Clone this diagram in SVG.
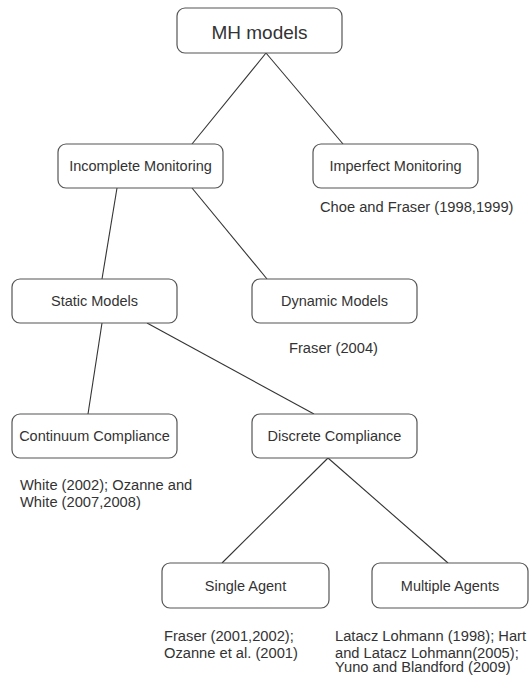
<svg xmlns="http://www.w3.org/2000/svg" width="531" height="676" viewBox="0 0 531 676">
<style>
.box{fill:#fff;stroke:#555;stroke-width:1.2}
.lbl{font-family:"Liberation Sans",Arial,sans-serif;font-size:14.5px;fill:#333;text-anchor:middle}
.big{font-size:19px}
.ref{font-family:"Liberation Sans",Arial,sans-serif;font-size:14.7px;fill:#333}
.edge{stroke:#333;stroke-width:1.1;fill:none}
</style>
<rect width="531" height="676" fill="#fff"/>
<g id="edges">
<line class="edge" x1="266" y1="53" x2="192" y2="144"/>
<line class="edge" x1="266" y1="53" x2="343" y2="144"/>
<line class="edge" x1="117" y1="188" x2="102" y2="279"/>
<line class="edge" x1="192" y1="188" x2="267" y2="279"/>
<line class="edge" x1="102" y1="323" x2="88" y2="414"/>
<line class="edge" x1="147" y1="323" x2="314" y2="414"/>
<line class="edge" x1="328" y1="458" x2="222" y2="563"/>
<line class="edge" x1="328" y1="458" x2="448" y2="563"/>
</g>
<g id="mh"><rect class="box" x="177" y="8" width="165" height="45" rx="8"/><text class="lbl big" x="259.5" y="38.5">MH models</text></g>
<g id="incomplete"><rect class="box" x="58" y="144" width="165" height="44" rx="8"/><text class="lbl" x="140.5" y="171">Incomplete Monitoring</text></g>
<g id="imperfect"><rect class="box" x="313" y="144" width="165" height="44" rx="8"/><text class="lbl" x="395.5" y="171">Imperfect Monitoring</text>
<text class="ref" x="320" y="212">Choe and Fraser (1998,1999)</text></g>
<g id="static"><rect class="box" x="12" y="279" width="165" height="44" rx="8"/><text class="lbl" x="94.5" y="306">Static Models</text></g>
<g id="dynamic"><rect class="box" x="252" y="279" width="165" height="44" rx="8"/><text class="lbl" x="334.5" y="306">Dynamic Models</text>
<text class="ref" x="289" y="353">Fraser (2004)</text></g>
<g id="continuum"><rect class="box" x="12" y="414" width="165" height="44" rx="8"/><text class="lbl" x="94.5" y="441">Continuum Compliance</text>
<text class="ref" x="20" y="490">White (2002); Ozanne and</text>
<text class="ref" x="20" y="507">White (2007,2008)</text></g>
<g id="discrete"><rect class="box" x="252" y="414" width="165" height="44" rx="8"/><text class="lbl" x="334.5" y="441">Discrete Compliance</text></g>
<g id="single"><rect class="box" x="162" y="563" width="167" height="45" rx="8"/><text class="lbl" x="245.5" y="591">Single Agent</text>
<text class="ref" x="164" y="641">Fraser (2001,2002);</text>
<text class="ref" x="164" y="657.5">Ozanne et al. (2001)</text></g>
<g id="multiple"><rect class="box" x="372" y="563" width="156" height="45" rx="8"/><text class="lbl" x="450" y="591">Multiple Agents</text>
<text class="ref" x="335" y="641">Latacz Lohmann (1998); Hart</text>
<text class="ref" x="335" y="657.5">and Latacz Lohmann(2005);</text>
<text class="ref" x="335" y="672">Yuno and Blandford (2009)</text></g>
</svg>
